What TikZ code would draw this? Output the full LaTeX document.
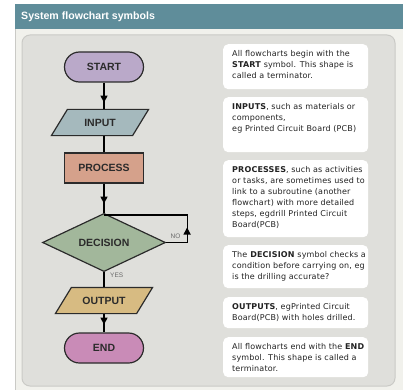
\documentclass[tikz,border=0pt]{standalone}
\usepackage{fontspec}
\setmainfont{DejaVu Sans}
\newfontfamily\arialf{Liberation Sans}
\usetikzlibrary{shapes.geometric,decorations.markings,arrows.meta}
\pgfdeclarelayer{back}
\pgfdeclarelayer{mid}
\pgfsetlayers{back,mid,main}
\definecolor{headc}{HTML}{5F8D9A}
\definecolor{bgc}{HTML}{F1F1EC}
\definecolor{panelc}{HTML}{DFDFDB}
\definecolor{paneledge}{HTML}{CACAC6}
\definecolor{startc}{HTML}{BAA9C9}
\definecolor{inputc}{HTML}{A5B9BD}
\definecolor{processc}{HTML}{D5A18B}
\definecolor{decc}{HTML}{A2B79B}
\definecolor{outputc}{HTML}{D7BB82}
\definecolor{endc}{HTML}{C98BB7}
\definecolor{inkc}{HTML}{2B2B2B}
\definecolor{txtc}{HTML}{222222}
\definecolor{lblc}{HTML}{6A6A6A}
\begin{document}
\begin{tikzpicture}[x=1pt,y=-1pt,
  shapebase/.style={draw=inkc, line width=1.2pt, inner sep=0pt, text=inkc,
    font=\arialf\bfseries\fontsize{10.5}{12}\selectfont},
  term/.style={shapebase, rectangle, rounded corners=15pt, minimum width=79pt, minimum height=30pt},
  proc/.style={shapebase, rectangle, minimum width=79pt, minimum height=30pt, fill=processc},
  paratext/.style={shapebase, draw=none, rectangle, minimum width=80pt, minimum height=25pt},
  paraline/.style={draw=inkc, line width=1.2pt, line join=miter},
  dec/.style={shapebase, diamond, minimum width=123pt, minimum height=37pt, fill=decc},
  conn/.style={draw=black, line width=1.2pt},
  midarrow/.style={postaction={decorate,decoration={markings,
    mark=at position #1 with {\arrow{Triangle[width=7pt,length=7pt]}}}}},
  lbl/.style={text=lblc, inner sep=0pt, font=\arialf\fontsize{6.5}{7}\selectfont},
  infobox/.style={fill=white, rounded corners=5pt, anchor=north west, minimum width=145pt, inner sep=0pt},
  infotext/.style={anchor=north west, inner sep=0pt, align=left, text=txtc,
    font=\fontsize{8}{11}\selectfont\addfontfeature{LetterSpace=2}}
]
\begin{pgfonlayer}{back}
\useasboundingbox (0,0) rectangle (403,390);
\fill[white] (0,0) rectangle (403,390);
\fill[bgc] (15,29) rectangle (403,390);
\draw[paneledge, line width=0.8pt] (15.4,29) -- (15.4,390);
\fill[headc] (15,4) rectangle (403,29);
\draw[fill=panelc, draw=paneledge, line width=1pt, rounded corners=8pt] (22,35) rectangle (395,386);
\end{pgfonlayer}
\node[anchor=west, inner sep=0pt, text=white, font=\arialf\bfseries\fontsize{10.6}{12}\selectfont] (title) at (21,16.5) {System flowchart symbols};

% flowchart
\node[term, fill=startc] (start) at (104,67) {START};
\node[paratext] (input) at (100,122.5) {INPUT};
\node[proc] (process) at (104,168) {PROCESS};
\node[dec] (decision) at (104,242.5) {DECISION};
\node[paratext] (output) at (104,300.5) {OUTPUT};
\node[term, fill=endc] (end) at (104,348) {END};
\coordinate (join) at (104,215);

\begin{pgfonlayer}{mid}
\filldraw[paraline, fill=inputc] ([xshift=-8pt]input.south west) -- ([xshift=-8pt]input.south east)
  -- ([xshift=8pt]input.north east) -- ([xshift=8pt]input.north west) -- cycle;
\filldraw[paraline, fill=outputc] ([xshift=-8pt]output.south west) -- ([xshift=-8pt]output.south east)
  -- ([xshift=8pt]output.north east) -- ([xshift=8pt]output.north west) -- cycle;
\end{pgfonlayer}

\draw[conn, midarrow=20pt] (start) -- (start |- input.north);
\draw[conn] (input.south -| process) -- (process);
\draw[conn, midarrow=20pt] (process) -- (decision);
\draw[conn, midarrow=17pt] (decision) -- (output);
\draw[conn, midarrow=11pt] (output) -- (end);
\draw[conn, midarrow=36pt] (decision.east) -- ++(21,0) |- (join);

\node[lbl, anchor=west] (yes) at (110,275) {YES};
\node[lbl] (no) at (175.5,236) {NO};

% info boxes
\node[infobox, minimum height=45pt] (b1) at (223,44) {};
\node[infobox, minimum height=55pt] (b2) at (223,97) {};
\node[infobox, minimum height=77pt] (b3) at (223,160) {};
\node[infobox, minimum height=43pt] (b4) at (223,245) {};
\node[infobox, minimum height=31pt] (b5) at (223,297) {};
\node[infobox, minimum height=40pt] (b6) at (223,337) {};

\node[infotext] (t1) at ([xshift=9pt,yshift=-6pt]b1.north west)
  {All flowcharts begin with the\\\textbf{START} symbol. This shape is\\called a terminator.};
\node[infotext] (t2) at ([xshift=9pt,yshift=-6pt]b2.north west)
  {\textbf{INPUTS}, such as materials or\\components,\\eg Printed Circuit Board (PCB)};
\node[infotext] (t3) at ([xshift=9pt,yshift=-6pt]b3.north west)
  {\textbf{PROCESSES}, such as activities\\or tasks, are sometimes used to\\link to a subroutine (another\\flowchart) with more detailed\\steps, egdrill Printed Circuit\\Board(PCB)};
\node[infotext] (t4) at ([xshift=9pt,yshift=-6pt]b4.north west)
  {The \textbf{DECISION} symbol checks a\\condition before carrying on, eg\\is the drilling accurate?};
\node[infotext] (t5) at ([xshift=9pt,yshift=-6pt]b5.north west)
  {\textbf{OUTPUTS}, egPrinted Circuit\\Board(PCB) with holes drilled.};
\node[infotext] (t6) at ([xshift=9pt,yshift=-6pt]b6.north west)
  {All flowcharts end with the \textbf{END}\\symbol. This shape is called a\\terminator.};
\end{tikzpicture}
\end{document}
